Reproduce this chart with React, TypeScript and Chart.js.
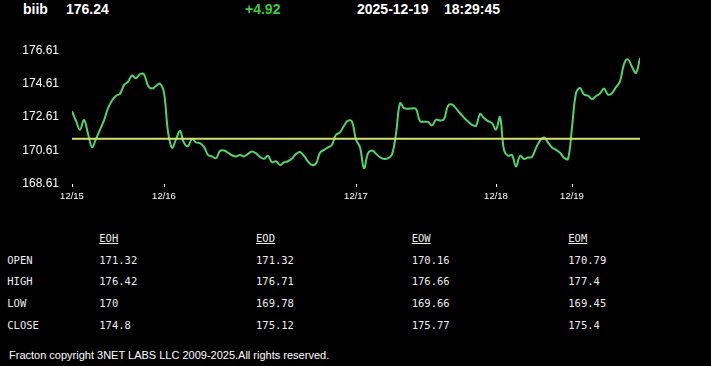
import React, { useEffect, useRef } from 'react';
import { Chart, registerables } from 'chart.js';

Chart.register(...registerables);

const symbol = 'biib';
const lastPrice = '176.24';
const change = '+4.92';
const dateStr = '2025-12-19';
const timeStr = '18:29:45';
const openPrice = 171.32;

const prices = [
  172.96, 172.38, 171.86, 172.44, 171.62, 170.81, 171.31, 171.86, 172.41, 173.13,
  173.6, 173.89, 174.0, 174.52, 174.73, 175.1, 174.93, 175.18, 175.16, 174.49,
  174.32, 174.47, 174.61, 174.06, 171.74, 170.78, 171.28, 171.78, 171.07, 170.87,
  171.31, 171.1, 171.06, 170.83, 170.35, 170.26, 170.15, 170.58, 170.61, 170.48,
  170.33, 170.26, 170.35, 170.26, 170.41, 170.55, 170.44, 170.23, 170.12, 170.29,
  169.91, 169.97, 169.74, 169.9, 169.97, 170.13, 170.41, 170.52, 170.29, 169.96,
  169.75, 169.83, 170.48, 170.65, 170.8, 170.96, 171.55, 171.7, 172.09, 172.4,
  172.34, 171.26, 170.81, 169.55, 170.44, 170.62, 170.42, 170.21, 170.11, 170.15,
  170.37, 171.62, 173.43, 173.15, 173.11, 173.13, 173.09, 172.36, 172.33, 172.32,
  172.11, 172.45, 172.41, 172.48, 173.29, 173.36, 173.13, 172.84, 172.58, 172.34,
  172.15, 172.09, 172.8, 172.55, 172.37, 172.25, 171.87, 172.61, 170.64, 170.3,
  170.34, 169.65, 170.29, 170.11, 170.19, 170.23, 170.76, 171.2, 171.39, 171.09,
  170.79, 170.65, 170.48, 170.18, 170.11, 172.0, 174.04, 174.35, 173.96, 173.9,
  173.69, 173.87, 174.02, 174.32, 173.96, 174.04, 174.4, 174.74, 175.78, 176.06,
  175.61, 175.26, 176.15,
];

const xTickIndex = [0, 23, 71, 106, 125];
const xTickLabels = ['12/15', '12/16', '12/17', '12/18', '12/19'];
const yTicks = [168.61, 170.61, 172.61, 174.61, 176.61];

const tableCols = ['EOH', 'EOD', 'EOW', 'EOM'];
const tableRows = ['OPEN', 'HIGH', 'LOW', 'CLOSE'];
const eohValues = ['171.32', '176.42', '170', '174.8'];
const eodValues = ['171.32', '176.71', '169.78', '175.12'];
const eowValues = ['170.16', '176.66', '169.66', '175.77'];
const eomValues = ['170.79', '177.4', '169.45', '175.4'];
const footerText = 'Fracton copyright 3NET LABS LLC 2009-2025.All rights reserved.';

const colValues = [eohValues, eodValues, eowValues, eomValues];

export default function App() {
  const canvasRef = useRef<HTMLCanvasElement | null>(null);

  useEffect(() => {
    document.body.style.margin = '0';
    document.body.style.background = '#000';
    const canvas = canvasRef.current;
    if (!canvas) return;
    const chart = new Chart(canvas, {
      type: 'line',
      data: {
        datasets: [
          {
            data: prices.map((y, i) => ({ x: i, y })),
            borderColor: '#52d36c',
            borderWidth: 2,
            pointRadius: 0,
            tension: 0.4,
            order: 2,
          },
          {
            data: [
              { x: 0, y: openPrice },
              { x: prices.length - 1, y: openPrice },
            ],
            borderColor: '#d6e06c',
            borderWidth: 2,
            pointRadius: 0,
            order: 1,
          },
        ],
      },
      options: {
        animation: false,
        responsive: false,
        maintainAspectRatio: false,
        layout: { padding: { top: 16, right: 71, left: 0, bottom: 0 } },
        plugins: { legend: { display: false }, tooltip: { enabled: false } },
        scales: {
          x: {
            type: 'linear',
            min: 0,
            max: prices.length - 1,
            afterBuildTicks: (s: any) => {
              s.ticks = xTickIndex.map((v) => ({ value: v }));
            },
            afterFit: (s: any) => {
              s.height = 36;
            },
            ticks: {
              color: '#ffffff',
              font: { family: 'Liberation Sans', size: 9.5 },
              padding: 4,
              maxRotation: 0,
              autoSkip: false,
              callback: (v: any) => {
                const k = xTickIndex.indexOf(Number(v));
                return k >= 0 ? xTickLabels[k] : '';
              },
            },
            grid: { drawOnChartArea: false, drawTicks: true, tickLength: 3, color: '#ffffff' },
            border: { display: false },
          },
          y: {
            min: yTicks[0],
            max: yTicks[yTicks.length - 1],
            afterBuildTicks: (s: any) => {
              s.ticks = yTicks.map((v) => ({ value: v }));
            },
            afterFit: (s: any) => {
              s.width = 72;
            },
            ticks: {
              color: '#ffffff',
              font: { family: 'Liberation Sans', size: 12 },
              padding: 13,
              callback: (v: any) => Number(v).toFixed(2),
            },
            grid: { display: false, drawTicks: false },
            border: { display: false },
          },
        },
      },
    } as any);
    return () => chart.destroy();
  }, []);

  const hdr: React.CSSProperties = {
    position: 'absolute',
    top: 1,
    fontFamily: 'Liberation Sans, Arial, sans-serif',
    fontWeight: 'bold',
    fontSize: 14,
    lineHeight: '16px',
    color: '#ffffff',
    whiteSpace: 'nowrap',
  };
  const mono: React.CSSProperties = {
    position: 'absolute',
    fontFamily: 'DejaVu Sans Mono, monospace',
    fontSize: 10.5,
    lineHeight: '14px',
    color: '#eeeeee',
    whiteSpace: 'nowrap',
  };
  const rowCenters = [259.7, 280.7, 302.7, 325];
  const colLefts = [99.3, 256, 411.7, 568.3];

  return (
    <div
      style={{
        position: 'absolute',
        left: 0,
        top: 0,
        width: 711,
        height: 366,
        background: '#000',
        overflow: 'hidden',
      }}
    >
      <div style={{ ...hdr, left: 23 }}>{symbol}</div>
      <div style={{ ...hdr, left: 66 }}>{lastPrice}</div>
      <div style={{ ...hdr, left: 245, color: '#3ccc3c' }}>{change}</div>
      <div style={{ ...hdr, left: 357 }}>{dateStr}</div>
      <div style={{ ...hdr, left: 444 }}>{timeStr}</div>

      <canvas
        ref={canvasRef}
        width={711}
        height={190}
        style={{ position: 'absolute', left: 0, top: 30, width: 711, height: 190 }}
      />

      {tableCols.map((c, i) => (
        <div
          key={c}
          style={{ ...mono, left: colLefts[i], top: 238.3 - 7, textDecoration: 'underline' }}
        >
          {c}
        </div>
      ))}
      {tableRows.map((r, ri) => (
        <React.Fragment key={r}>
          <div style={{ ...mono, left: 7.3, top: rowCenters[ri] - 7 }}>{r}</div>
          {colValues.map((vals, ci) => (
            <div key={ci} style={{ ...mono, left: colLefts[ci], top: rowCenters[ri] - 7 }}>
              {vals[ri]}
            </div>
          ))}
        </React.Fragment>
      ))}

      <div
        style={{
          position: 'absolute',
          left: 9,
          top: 348,
          fontFamily: 'Liberation Sans, Arial, sans-serif',
          fontSize: 11,
          lineHeight: '14px',
          color: '#ffffff',
          whiteSpace: 'nowrap',
        }}
      >
        {footerText}
      </div>
    </div>
  );
}
